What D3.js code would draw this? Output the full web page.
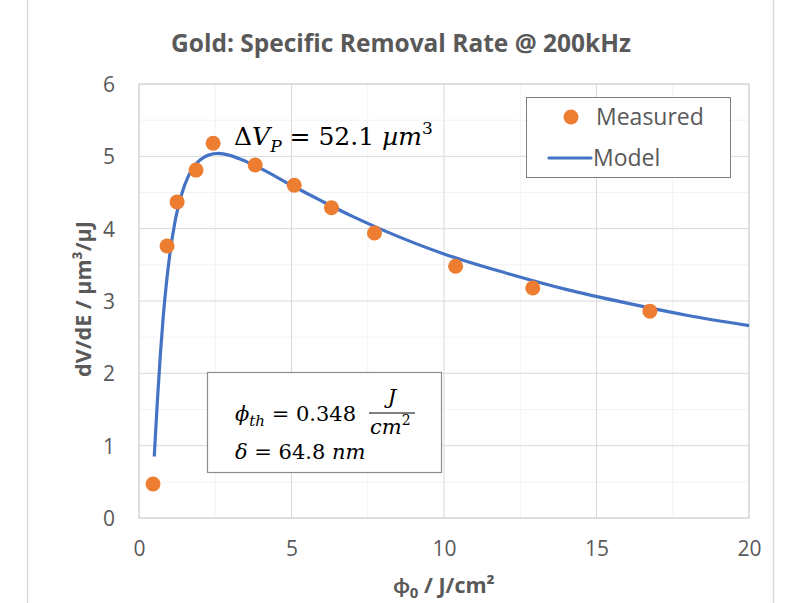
<!DOCTYPE html>
<html>
<head>
<meta charset="utf-8">
<script src="https://cdn.jsdelivr.net/npm/d3@7"></script>
<style>
  body { margin: 0; background: #fff; }
  svg text { font-family: "Open Sans", Lato, sans-serif; }
  .math { font-family: "DejaVu Serif", "Liberation Serif", serif; }
</style>
</head>
<body>
<div id="chart"></div>
<script>
// Measured points (fluence J/cm², dV/dE µm³/µJ)
const measuredX = [0.46, 0.92, 1.25, 1.87, 2.43, 3.81, 5.09, 6.31, 7.72, 10.38, 12.91, 16.75];
const measuredY = [0.47, 3.76, 4.37, 4.81, 5.18, 4.88, 4.60, 4.29, 3.94, 3.48, 3.18, 2.86];

// Model curve
const modelX = [0.5, 0.6, 0.7, 0.8, 0.9, 1.0, 1.2, 1.4, 1.6, 1.8, 2.0, 2.3, 2.6, 3.0, 3.5, 4, 5, 6, 7, 8, 10, 12, 14, 16, 18, 20];
const modelY = [0.85, 1.60, 2.26, 2.81, 3.25, 3.61, 4.14, 4.48, 4.71, 4.86, 4.95, 5.02, 5.04, 5.01, 4.93, 4.83, 4.60, 4.38, 4.17, 3.98, 3.65, 3.39, 3.16, 2.97, 2.80, 2.66];

const xTicks = [0, 5, 10, 15, 20];
const yTicks = [0, 1, 2, 3, 4, 5, 6];

const W = 785, H = 603;
const margin = {top: 84, right: 36, bottom: 85, left: 139};
const width = W - margin.left - margin.right;
const height = H - margin.top - margin.bottom;

const svg = d3.select("#chart").append("svg")
  .attr("width", W)
  .attr("height", H);

// outer chart frame edges
svg.append("line").attr("x1", 27.5).attr("x2", 27.5).attr("y1", 0).attr("y2", H)
  .attr("stroke", "#d9d9d9").attr("stroke-width", 1.5);
svg.append("line").attr("x1", 773.5).attr("x2", 773.5).attr("y1", 0).attr("y2", H)
  .attr("stroke", "#d9d9d9").attr("stroke-width", 1.5);

const g = svg.append("g")
  .attr("transform", `translate(${margin.left},${margin.top})`);

const x = d3.scaleLinear().domain([0, 20]).range([0, width]);
const y = d3.scaleLinear().domain([0, 6]).range([height, 0]);

// minor gridlines
g.append("g")
  .selectAll("line")
  .data(d3.range(0.5, 6, 1))
  .join("line")
  .attr("x1", 0).attr("x2", width)
  .attr("y1", d => y(d)).attr("y2", d => y(d))
  .attr("stroke", "#f2f2f2");
g.append("g")
  .selectAll("line")
  .data(d3.range(2.5, 20, 5))
  .join("line")
  .attr("y1", 0).attr("y2", height)
  .attr("x1", d => x(d)).attr("x2", d => x(d))
  .attr("stroke", "#f2f2f2");

// major gridlines
g.append("g")
  .selectAll("line")
  .data(yTicks)
  .join("line")
  .attr("x1", 0).attr("x2", width)
  .attr("y1", d => y(d)).attr("y2", d => y(d))
  .attr("stroke", "#d9d9d9");
g.append("g")
  .selectAll("line")
  .data(xTicks)
  .join("line")
  .attr("y1", 0).attr("y2", height)
  .attr("x1", d => x(d)).attr("x2", d => x(d))
  .attr("stroke", "#d9d9d9");

// plot area border
g.append("rect")
  .attr("width", width).attr("height", height)
  .attr("fill", "none").attr("stroke", "#d0d0d0");

// axes (labels only)
const xAxis = g.append("g")
  .attr("transform", `translate(0,${height})`)
  .call(d3.axisBottom(x).tickValues(xTicks).tickFormat(d3.format("d")).tickSize(0).tickPadding(23));
const yAxis = g.append("g")
  .call(d3.axisLeft(y).tickValues(yTicks).tickFormat(d3.format("d")).tickSize(0).tickPadding(24));
[xAxis, yAxis].forEach(a => {
  a.select(".domain").remove();
  a.selectAll("text")
    .attr("fill", "#595959")
    .style("font-size", "21px")
    .style("font-family", "'Open Sans', Lato, sans-serif");
});
yAxis.selectAll("text").attr("dy", "0.35em");

// model line
const modelData = modelX.map((v, i) => ({x: v, y: modelY[i]}));
const line = d3.line()
  .x(d => x(d.x))
  .y(d => y(d.y))
  .curve(d3.curveMonotoneX);
g.append("path")
  .datum(modelData)
  .attr("fill", "none")
  .attr("stroke", "#4472c4")
  .attr("stroke-width", 3.2)
  .attr("stroke-linejoin", "round")
  .attr("d", line);

// measured points
g.selectAll("circle.pt")
  .data(measuredX.map((v, i) => ({x: v, y: measuredY[i]})))
  .join("circle")
  .attr("class", "pt")
  .attr("cx", d => x(d.x))
  .attr("cy", d => y(d.y))
  .attr("r", 7.5)
  .attr("fill", "#ed7d31");

// title
svg.append("text")
  .attr("x", 401).attr("y", 52)
  .attr("text-anchor", "middle")
  .attr("fill", "#595959")
  .style("font-size", "24.5px")
  .style("font-weight", "bold")
  .text("Gold: Specific Removal Rate @ 200kHz");

// axis titles
svg.append("text")
  .attr("x", 444).attr("y", 593)
  .attr("text-anchor", "middle")
  .attr("fill", "#595959")
  .style("font-size", "21.5px")
  .style("font-weight", "bold")
  .html("ϕ<tspan dy='5' font-size='15px'>0</tspan><tspan dy='-5'> / J/cm²</tspan>");

svg.append("text")
  .attr("transform", "translate(91,299) rotate(-90)")
  .attr("text-anchor", "middle")
  .attr("fill", "#595959")
  .style("font-size", "21.5px")
  .style("font-weight", "bold")
  .text("dV/dE / µm³/µJ");

// ΔV_P annotation
const dv = svg.append("text")
  .attr("class", "math")
  .attr("x", 234).attr("y", 145)
  .attr("fill", "#000")
  .style("font-size", "25px");
dv.append("tspan").text("Δ");
dv.append("tspan").attr("font-style", "italic").text("V");
dv.append("tspan").attr("font-style", "italic").attr("font-size", "17px").attr("dy", 7).text("P");
dv.append("tspan").attr("dy", -7).text(" = 52.1 ");
dv.append("tspan").attr("font-style", "italic").text("µm");
dv.append("tspan").attr("font-size", "17px").attr("dy", -11).text("3");

// legend
const legend = svg.append("g");
legend.append("rect")
  .attr("x", 526.5).attr("y", 97.5)
  .attr("width", 204).attr("height", 80)
  .attr("fill", "#fff").attr("stroke", "#7f7f7f");
legend.append("circle")
  .attr("cx", 571).attr("cy", 117).attr("r", 7.5)
  .attr("fill", "#ed7d31");
legend.append("text")
  .attr("x", 596).attr("y", 125)
  .attr("fill", "#595959")
  .style("font-size", "23px")
  .text("Measured");
legend.append("line")
  .attr("x1", 549).attr("x2", 591)
  .attr("y1", 158).attr("y2", 158)
  .attr("stroke", "#4472c4").attr("stroke-width", 3.2)
  .attr("stroke-linecap", "round");
legend.append("text")
  .attr("x", 593).attr("y", 166)
  .attr("fill", "#595959")
  .style("font-size", "23px")
  .text("Model");

// parameter box
const pbox = svg.append("g");
pbox.append("rect")
  .attr("x", 207.5).attr("y", 372.5)
  .attr("width", 234).attr("height", 100)
  .attr("fill", "#fff").attr("stroke", "#8c8c8c").attr("stroke-width", 1.2);
const t1 = pbox.append("text")
  .attr("class", "math")
  .attr("x", 235).attr("y", 421)
  .style("font-size", "21px");
t1.append("tspan").attr("font-style", "italic").text("ϕ");
t1.append("tspan").attr("font-style", "italic").attr("font-size", "15px").attr("dy", 5).text("th");
t1.append("tspan").attr("dy", -5).text(" = 0.348");
pbox.append("text").attr("class", "math")
  .attr("x", 392).attr("y", 404)
  .attr("text-anchor", "middle")
  .attr("font-style", "italic")
  .style("font-size", "21px")
  .text("J");
pbox.append("line")
  .attr("x1", 369).attr("x2", 415)
  .attr("y1", 413).attr("y2", 413)
  .attr("stroke", "#000").attr("stroke-width", 1.2);
const den = pbox.append("text").attr("class", "math")
  .attr("x", 370).attr("y", 434)
  .style("font-size", "21px");
den.append("tspan").attr("font-style", "italic").text("cm");
den.append("tspan").attr("font-size", "14px").attr("dy", -9).text("2");
const t2 = pbox.append("text")
  .attr("class", "math")
  .attr("x", 235).attr("y", 459)
  .style("font-size", "21px");
t2.append("tspan").attr("font-style", "italic").text("δ");
t2.append("tspan").text(" = 64.8 ");
t2.append("tspan").attr("font-style", "italic").text("nm");
</script>
</body>
</html>
